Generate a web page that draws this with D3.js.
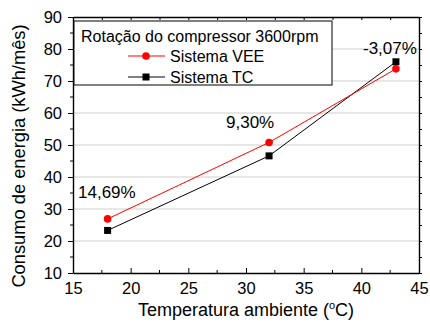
<!DOCTYPE html>
<html>
<head>
<meta charset="utf-8">
<script src="https://cdn.jsdelivr.net/npm/d3@7"></script>
<style>
  body { margin: 0; background: #fff; }
  svg { font-family: "Liberation Sans", Arial, sans-serif; }
</style>
</head>
<body>
<svg id="chart" width="430" height="329"></svg>
<script>
// data
const temps = [18, 32, 43];
const sistemaVEE = [26.9, 50.8, 73.8];
const sistemaTC = [23.3, 46.6, 76.0];
const diffLabels = ["14,69%", "9,30%", "-3,07%"];
const xTicks = [15, 20, 25, 30, 35, 40, 45];
const yTicks = [10, 20, 30, 40, 50, 60, 70, 80, 90];
const gridValues = [20, 30, 40, 50, 60, 70, 80];

const svg = d3.select("#chart");
const mLeft = 73, mRight = 419, mTop = 17, mBottom = 273;

const x = d3.scaleLinear().domain([15, 45]).range([mLeft, mRight]);
const y = d3.scaleLinear().domain([10, 90]).range([mBottom, mTop]);

// horizontal grid
svg.append("g")
  .selectAll("line")
  .data(gridValues)
  .join("line")
  .attr("x1", mLeft).attr("x2", mRight)
  .attr("y1", d => y(d)).attr("y2", d => y(d))
  .attr("stroke", "#cfcfcf")
  .attr("stroke-width", 1);

// axes (bottom ticks inward, left ticks outward)
const minorX = d3.range(17.5, 45, 5);
const minorY = d3.range(15, 90, 10);

const bottomAxis = svg.append("g")
  .attr("transform", `translate(0,${mBottom})`)
  .call(d3.axisBottom(x).tickValues(xTicks).tickSize(-5).tickPadding(9).tickSizeOuter(0));
bottomAxis.append("g").selectAll("line").data(minorX).join("line")
  .attr("x1", d => x(d)).attr("x2", d => x(d)).attr("y1", 0).attr("y2", -3)
  .attr("stroke", "#000");

const leftAxis = svg.append("g")
  .attr("transform", `translate(${mLeft},0)`)
  .call(d3.axisLeft(y).tickValues(yTicks).tickSize(5).tickPadding(6).tickSizeOuter(0));
leftAxis.append("g").selectAll("line").data(minorY).join("line")
  .attr("y1", d => y(d)).attr("y2", d => y(d)).attr("x1", 0).attr("x2", -3)
  .attr("stroke", "#000");

svg.append("g")
  .attr("transform", `translate(0,${mTop})`)
  .call(d3.axisTop(x).tickValues(xTicks.concat(minorX)).tickSize(-3).tickFormat("").tickSizeOuter(0));

svg.append("g")
  .attr("transform", `translate(${mRight},0)`)
  .call(d3.axisRight(y).tickValues(yTicks.concat(minorY)).tickSize(3).tickFormat("").tickSizeOuter(0));

svg.selectAll(".domain").attr("stroke", "#000").attr("stroke-width", 1.4);
svg.selectAll(".tick line").attr("stroke", "#000");
svg.selectAll(".tick text").attr("font-size", 16.5).attr("fill", "#000")
  .attr("font-family", "'Liberation Sans', Arial, sans-serif");

// axis titles
svg.append("text")
  .attr("x", 246).attr("y", 316)
  .attr("text-anchor", "middle")
  .attr("font-size", 18)
  .html('Temperatura ambiente (<tspan dy="-7" font-size="11">o</tspan><tspan dy="7">C)</tspan>');

svg.append("text")
  .attr("transform", `translate(25,156) rotate(-90)`)
  .attr("text-anchor", "middle")
  .attr("font-size", 18.3)
  .text("Consumo de energia (kWh/mês)");

// series
const line = d3.line().x(d => x(d[0])).y(d => y(d[1]));
const veeData = temps.map((t, i) => [t, sistemaVEE[i]]);
const tcData = temps.map((t, i) => [t, sistemaTC[i]]);

svg.append("path").datum(tcData).attr("d", line)
  .attr("fill", "none").attr("stroke", "#000").attr("stroke-width", 1);
svg.append("path").datum(veeData).attr("d", line)
  .attr("fill", "none").attr("stroke", "#ff0000").attr("stroke-width", 1);

svg.append("g").selectAll("rect").data(tcData).join("rect")
  .attr("x", d => x(d[0]) - 3.5).attr("y", d => y(d[1]) - 3.5)
  .attr("width", 7).attr("height", 7).attr("fill", "#000");
svg.append("g").selectAll("circle").data(veeData).join("circle")
  .attr("cx", d => x(d[0])).attr("cy", d => y(d[1]))
  .attr("r", 3.8).attr("fill", "#ff0000");

// percentage labels
const labelPos = [[78, 198], [226, 128], [363, 54]];
svg.append("g").selectAll("text").data(diffLabels).join("text")
  .attr("x", (d, i) => labelPos[i][0]).attr("y", (d, i) => labelPos[i][1])
  .attr("font-size", 17)
  .text(d => d);

// legend
const legend = svg.append("g");
legend.append("rect")
  .attr("x", 74).attr("y", 21).attr("width", 258).attr("height", 64)
  .attr("fill", "#fff").attr("stroke", "#000").attr("stroke-width", 1);
legend.append("text").attr("x", 81).attr("y", 42).attr("font-size", 16)
  .text("Rotação do compressor 3600rpm");

const legendItems = [
  { name: "Sistema VEE", color: "#ff0000", shape: "circle", y: 56 },
  { name: "Sistema TC", color: "#000", shape: "square", y: 77 }
];
legendItems.forEach(item => {
  legend.append("line")
    .attr("x1", 128).attr("x2", 165).attr("y1", item.y).attr("y2", item.y)
    .attr("stroke", item.color).attr("stroke-width", 1);
  if (item.shape === "circle") {
    legend.append("circle").attr("cx", 146).attr("cy", item.y).attr("r", 3.8).attr("fill", item.color);
  } else {
    legend.append("rect").attr("x", 142.5).attr("y", item.y - 3.5).attr("width", 7).attr("height", 7).attr("fill", item.color);
  }
  legend.append("text").attr("x", 170).attr("y", item.y + 5.5).attr("font-size", 16).text(item.name);
});
</script>
</body>
</html>
